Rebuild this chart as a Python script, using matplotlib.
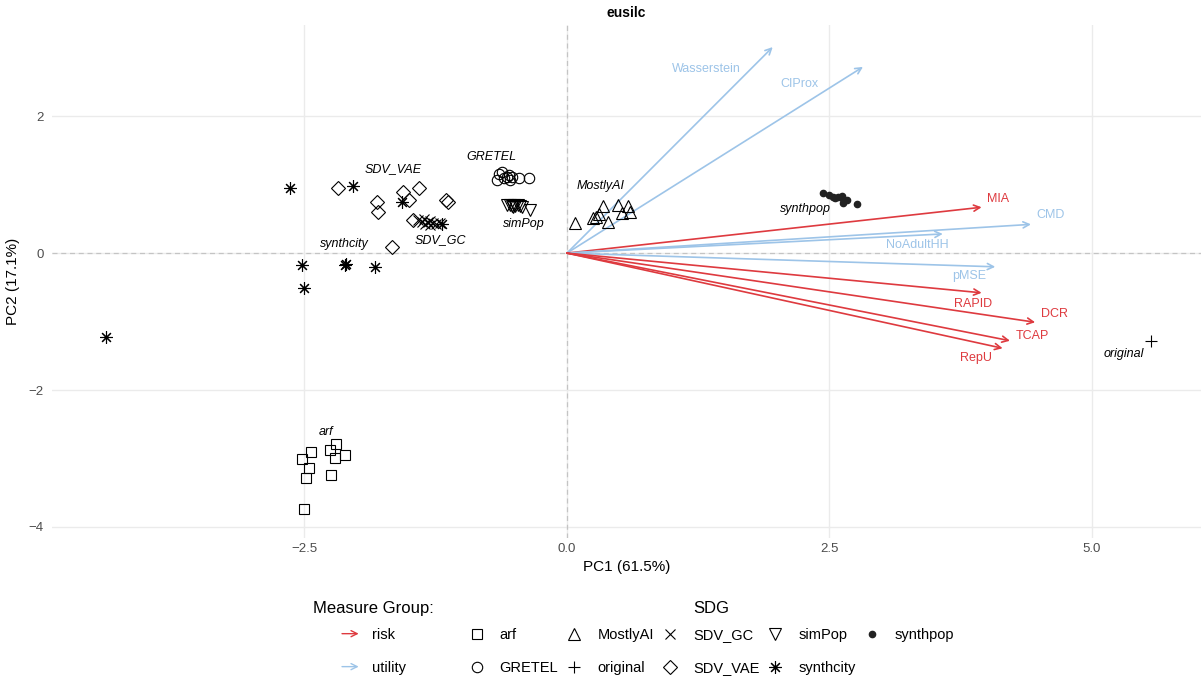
import matplotlib.pyplot as plt
import matplotlib.patches as mpatches
from matplotlib.legend_handler import HandlerPatch

plt.rcParams['font.family'] = ['Liberation Sans', 'DejaVu Sans']

# PCA scores per synthesizer (PC1, PC2)
arf_x = [-2.44, -2.52, -2.46, -2.49, -2.50, -2.20, -2.26, -2.21, -2.11, -2.25]
arf_y = [-2.91, -3.01, -3.14, -3.28, -3.74, -2.79, -2.88, -2.99, -2.95, -3.24]
gretel_x = [-0.67, -0.65, -0.62, -0.57, -0.55, -0.54, -0.52, -0.46, -0.36, -0.60]
gretel_y = [1.07, 1.15, 1.18, 1.11, 1.14, 1.07, 1.11, 1.09, 1.09, 1.09]
mostly_x = [0.08, 0.25, 0.28, 0.34, 0.39, 0.49, 0.58, 0.52, 0.60, 0.31]
mostly_y = [0.44, 0.51, 0.53, 0.69, 0.45, 0.70, 0.69, 0.58, 0.60, 0.57]
orig_x = [5.56]
orig_y = [-1.28]
gc_x = [-1.42, -1.38, -1.35, -1.32, -1.30, -1.28, -1.25, -1.21, -1.36, -1.30]
gc_y = [0.48, 0.45, 0.42, 0.45, 0.41, 0.44, 0.42, 0.44, 0.50, 0.47]
vae_x = [-2.18, -1.81, -1.80, -1.56, -1.50, -1.41, -1.15, -1.13, -1.47, -1.67]
vae_y = [0.95, 0.74, 0.60, 0.89, 0.77, 0.95, 0.77, 0.74, 0.48, 0.09]
simpop_x = [-0.57, -0.54, -0.52, -0.50, -0.49, -0.47, -0.45, -0.43, -0.51, -0.35]
simpop_y = [0.70, 0.70, 0.69, 0.70, 0.69, 0.70, 0.69, 0.67, 0.67, 0.63]
scity_x = [-4.39, -2.64, -2.04, -2.52, -2.50, -2.11, -2.10, -1.83, -1.57, -1.19]
scity_y = [-1.23, 0.95, 0.98, -0.18, -0.51, -0.18, -0.16, -0.20, 0.74, 0.42]
spop_x = [2.44, 2.50, 2.53, 2.58, 2.62, 2.63, 2.67, 2.63, 2.76, 2.55]
spop_y = [0.88, 0.85, 0.82, 0.82, 0.83, 0.79, 0.77, 0.73, 0.72, 0.80]

# group label positions
sdg_names = ['SDV_VAE', 'synthcity', 'SDV_GC', 'GRETEL', 'simPop', 'MostlyAI',
             'synthpop', 'original', 'arf']
sdg_lab_x = [-1.65, -2.12, -1.21, -0.72, -0.41, 0.32, 2.27, 5.30, -2.29]
sdg_lab_y = [1.23, 0.13, 0.19, 1.40, 0.42, 0.98, 0.64, -1.47, -2.61]

# loadings
measures = ['Wasserstein', 'CIProx', 'MIA', 'CMD', 'NoAdultHH', 'pMSE',
            'RAPID', 'DCR', 'TCAP', 'RepU']
groups = ['utility', 'utility', 'risk', 'utility', 'utility', 'utility',
          'risk', 'risk', 'risk', 'risk']
load_x = [1.96, 2.82, 3.95, 4.42, 3.58, 4.08, 3.95, 4.46, 4.22, 4.15]
load_y = [3.01, 2.72, 0.67, 0.42, 0.28, -0.20, -0.58, -1.01, -1.28, -1.39]
lab_x = [1.33, 2.21, 4.11, 4.61, 3.34, 3.83, 3.87, 4.64, 4.43, 3.90]
lab_y = [2.69, 2.47, 0.79, 0.55, 0.12, -0.34, -0.74, -0.89, -1.21, -1.53]

col = {'risk': '#de3a3f', 'utility': '#9dc4e8'}

fig = plt.figure(figsize=(12.03, 6.8), dpi=100)
ax = fig.add_axes([0.0432, 0.209, 0.955, 0.754])
ax.set_xlim(-4.905, 6.038)
ax.set_ylim(-4.16, 3.33)

for s in ax.spines.values():
    s.set_visible(False)
ax.set_xticks([-2.5, 0, 2.5, 5.0])
ax.set_xticklabels(['\u22122.5', '0.0', '2.5', '5.0'])
ax.set_yticks([-4, -2, 0, 2])
ax.set_yticklabels(['\u22124', '\u22122', '0', '2'])
ax.tick_params(length=0, labelsize=9.5, labelcolor='#4d4d4d')
ax.tick_params(axis='x', pad=4)
ax.tick_params(axis='y', pad=6)
ax.grid(True, color='#ebebeb', lw=1.0)
ax.set_axisbelow(True)
ax.axhline(0, color='#c4c4c4', ls=(0, (4, 3)), lw=0.9, zorder=1)
ax.axvline(0, color='#c4c4c4', ls=(0, (4, 3)), lw=0.9, zorder=1)

ax.set_xlabel('PC1 (61.5%)', fontsize=11, labelpad=3)
ax.set_ylabel('PC2 (17.1%)', fontsize=11, labelpad=6)
ax.set_title('eusilc', fontsize=10, fontweight='bold', pad=6)

for i in range(len(measures)):
    c = col[groups[i]]
    ax.annotate('', xy=(load_x[i], load_y[i]), xytext=(0, 0),
                arrowprops=dict(arrowstyle='->', color=c, lw=1.2,
                                mutation_scale=11, shrinkA=0, shrinkB=0),
                zorder=3)
    ax.text(lab_x[i], lab_y[i], measures[i], color=c, fontsize=9,
            ha='center', va='center', zorder=4)

mk = dict(ls='none', mec='black', mfc='none', mew=0.8, zorder=5)
ax.plot(arf_x, arf_y, marker='s', ms=7.5, label='arf', **mk)
ax.plot(gretel_x, gretel_y, marker='o', ms=7.5, label='GRETEL', **mk)
ax.plot(mostly_x, mostly_y, marker='^', ms=8, label='MostlyAI', **mk)
ax.plot(orig_x, orig_y, marker='+', ms=9, label='original', **mk)
ax.plot(gc_x, gc_y, marker='x', ms=7, label='SDV_GC', **mk)
ax.plot(vae_x, vae_y, marker='D', ms=7, label='SDV_VAE', **mk)
ax.plot(simpop_x, simpop_y, marker='v', ms=8, label='simPop', **mk)
ax.plot(scity_x, scity_y, marker=(8, 2, 0), ms=9, label='synthcity', **mk)
ax.plot(spop_x, spop_y, ls='none', marker='o', ms=4.5, color='#222222',
        label='synthpop', zorder=5)

for n, x, y in zip(sdg_names, sdg_lab_x, sdg_lab_y):
    ax.text(x, y, n, fontsize=9, style='italic', ha='center', va='center',
            zorder=6)

# legends
sdg_handles, sdg_labels = ax.get_legend_handles_labels()
sdg_leg = fig.legend(sdg_handles, sdg_labels, title='SDG', ncol=5,
                     loc='upper left', bbox_to_anchor=(0.384, 0.125),
                     frameon=False, fontsize=10.5, title_fontsize=12,
                     handlelength=1.2, handletextpad=0.98, columnspacing=0.5,
                     labelspacing=1.3, borderaxespad=0)
sdg_leg._legend_box.sep = 8.6


def make_arrow(legend, orig_handle, xdescent, ydescent, width, height, fontsize):
    x1 = width - xdescent
    return mpatches.FancyArrowPatch((x1 - 16, height / 2), (x1, height / 2),
                                    arrowstyle='->', mutation_scale=11, lw=1.2,
                                    color=orig_handle.get_edgecolor())


grp_handles = [mpatches.Patch(edgecolor=col['risk']),
               mpatches.Patch(edgecolor=col['utility'])]
grp_leg = fig.legend(grp_handles, ['risk', 'utility'], title='Measure Group:',
                     loc='upper left', bbox_to_anchor=(0.255, 0.125),
                     frameon=False, fontsize=10.5, title_fontsize=12,
                     handlelength=3.35, handletextpad=0.7, labelspacing=1.3,
                     alignment='left', borderaxespad=0,
                     handler_map={mpatches.Patch: HandlerPatch(patch_func=make_arrow)})
grp_leg._legend_box.sep = 8.6

fig.savefig('out.png', dpi=100)
